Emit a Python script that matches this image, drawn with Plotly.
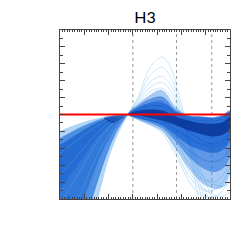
import plotly.graph_objects as go

# ---- data ----
title_text = "H3"
x_range = [0, 7]
y_range = [-1, 1]
ref_level = 0.0
vlines = [3.0, 4.8, 6.25]

# left-hand family (all meet at the pivot)
x_left = [0.0, 0.5, 1.0, 1.5, 2.0, 2.4, 2.8]
L1 = [-0.20, -0.14, -0.09, -0.05, -0.02, -0.006, 0]
L2 = [-0.28, -0.20, -0.13, -0.07, -0.03, -0.01, 0]
L3 = [-0.36, -0.27, -0.18, -0.10, -0.045, -0.015, 0]
L4 = [-0.46, -0.35, -0.24, -0.14, -0.06, -0.02, 0]
L5 = [-0.58, -0.45, -0.31, -0.18, -0.08, -0.025, 0]
L6 = [-0.72, -0.56, -0.39, -0.23, -0.10, -0.03, 0]
L7 = [-0.88, -0.69, -0.48, -0.28, -0.13, -0.04, 0]
L8 = [-1.05, -0.83, -0.58, -0.34, -0.16, -0.05, 0]
L9 = [-1.25, -0.99, -0.70, -0.42, -0.20, -0.07, 0]
L10 = [-1.45, -1.16, -0.83, -0.50, -0.24, -0.09, 0]
L11 = [-1.70, -1.36, -0.98, -0.60, -0.29, -0.11, 0]
L12 = [-1.95, -1.58, -1.15, -0.71, -0.35, -0.14, 0]
L13 = [-2.20, -1.80, -1.32, -0.84, -0.42, -0.17, 0]
S1 = [-2.40, -2.00, -1.55, -1.06, -0.52, -0.22, 0]
left_lines = [L1, L2, L4, L6, L8, L10, L12, S1]

x_core_left = [1.8, 2.2, 2.5, 2.8]
core_left_top = [-0.04, -0.015, -0.006, 0]
core_left_bot = [-0.04, -0.10, -0.05, 0]

# right-hand family
x_right = [2.8, 3.2, 3.7, 4.2, 4.8, 5.3, 5.8, 6.3, 6.7, 7.0]
outer_top = [0, 0.12, 0.23, 0.29, 0.08, -0.01, -0.02, -0.03, 0.0, 0.05]
outer_bot = [0, -0.065, -0.124, -0.20, -0.42, -0.64, -0.80, -0.88, -0.86, -0.70]
mid_top = [0, 0.10, 0.18, 0.21, 0.05, -0.015, -0.025, -0.035, -0.01, 0.04]
mid_bot = [0, -0.05, -0.10, -0.16, -0.33, -0.50, -0.62, -0.68, -0.64, -0.50]
dense_top = [0, 0.077, 0.136, 0.148, 0.03, -0.018, -0.03, -0.04, -0.018, 0.03]
dense_bot = [0, -0.04, -0.077, -0.124, -0.254, -0.36, -0.42, -0.455, -0.42, -0.30]
core_top = [0, 0.045, 0.06, 0.05, -0.03, -0.07, -0.10, -0.11, -0.09, -0.03]
core_bot = [0, -0.01, -0.04, -0.07, -0.13, -0.19, -0.23, -0.26, -0.24, -0.16]
R1 = [0, 0.10, 0.18, 0.20, 0.0, -0.05, -0.07, -0.08, -0.05, 0.02]
R2 = [0, 0.06, 0.10, 0.10, -0.03, -0.09, -0.13, -0.15, -0.12, -0.05]
R3 = [0, 0.03, 0.03, 0.0, -0.10, -0.17, -0.22, -0.25, -0.22, -0.12]
R4 = [0, 0.0, -0.03, -0.07, -0.18, -0.28, -0.35, -0.38, -0.34, -0.22]
R5 = [0, -0.03, -0.07, -0.12, -0.28, -0.42, -0.52, -0.56, -0.52, -0.40]
R6 = [0, 0.08, 0.14, 0.16, -0.05, -0.20, -0.30, -0.35, -0.30, -0.15]
right_lines = [R1, R2, R3, R4, R5, R6]
D1 = [0, -0.03, -0.08, -0.17, -0.45, -0.72, -0.88, -0.90, -0.80, -0.62]
D2 = [0, -0.05, -0.12, -0.22, -0.50, -0.78, -0.95, -0.98, -0.90, -0.75]
D3 = [0, 0.0, -0.03, -0.10, -0.33, -0.58, -0.75, -0.80, -0.72, -0.55]
D4 = [0, 0.02, 0.02, -0.05, -0.25, -0.50, -0.70, -0.82, -0.85, -0.80]
D5 = [0, -0.02, -0.06, -0.14, -0.40, -0.66, -0.85, -0.95, -0.97, -0.92]
dip_lines = [D1, D2, D3, D4, D5]

x_peak = [2.8, 3.2, 3.7, 4.2, 4.6, 4.8, 5.1, 5.5, 5.8, 6.2]
P1 = [0, 0.20, 0.55, 0.68, 0.53, 0.33, 0.00, -0.70, -1.10, -1.60]
P2 = [0, 0.18, 0.46, 0.56, 0.42, 0.25, -0.05, -0.60, -0.95, -1.40]
P3 = [0, 0.16, 0.38, 0.45, 0.33, 0.18, -0.08, -0.50, -0.85, -1.20]
P4 = [0, 0.14, 0.32, 0.38, 0.26, 0.13, -0.10, -0.45, -0.75, -1.05]
P5 = [0, 0.12, 0.27, 0.31, 0.20, 0.09, -0.12, -0.42, -0.66, -0.95]
peak_lines = [P1, P2, P3, P4, P5]

# ---- figure ----
fig = go.Figure()


def band(xs, top, bot, color):
    fig.add_trace(go.Scatter(
        x=list(xs) + list(xs)[::-1], y=list(top) + list(bot)[::-1],
        fill="toself", fillcolor=color, mode="lines", line=dict(width=0),
        line_shape="spline", hoverinfo="skip", showlegend=False))


def curves(xs, family, color, width=0.8):
    for ys in family:
        fig.add_trace(go.Scatter(x=xs, y=ys, mode="lines", line_shape="spline",
                                 line=dict(color=color, width=width),
                                 hoverinfo="skip", showlegend=False))


# faint outliers first so the dense bands sit over them
curves(x_peak, peak_lines, "rgba(150,205,245,0.6)")
curves(x_right, dip_lines, "rgba(130,195,245,0.6)")

# left fan, layered
band(x_left, L1, S1, "rgba(100,170,240,0.5)")
band(x_left, L2, L13, "rgba(10,95,210,0.6)")
band(x_left, L3, L11, "rgba(0,80,200,0.35)")
band(x_left, L3, L7, "rgba(0,70,190,0.25)")
band(x_core_left, core_left_top, core_left_bot, "rgba(0,40,140,0.55)")

# right family, layered
band(x_right, outer_top, outer_bot, "rgba(60,140,232,0.45)")
band(x_right, mid_top, mid_bot, "rgba(20,100,215,0.5)")
band(x_right, dense_top, dense_bot, "rgba(0,80,200,0.55)")
band(x_right, core_top, core_bot, "rgba(0,35,130,0.65)")

curves(x_left, left_lines, "rgba(120,190,245,0.35)")
curves(x_right, right_lines, "rgba(0,60,180,0.3)")

fig.add_trace(go.Scatter(x=x_range, y=[ref_level, ref_level], mode="lines",
                         line=dict(color="#ff0000", width=2),
                         hoverinfo="skip", showlegend=False))

for v in vlines:
    fig.add_shape(type="line", xref="x", yref="y", x0=v, x1=v,
                  y0=y_range[0], y1=y_range[1], layer="below",
                  line=dict(color="#9a9a9a", width=1, dash="dot"))

axis_common = dict(showgrid=False, zeroline=False, showline=True,
                   linecolor="#444444", linewidth=1, mirror="allticks",
                   ticks="inside", tickcolor="#444444", ticklen=5,
                   showticklabels=False)
fig.update_xaxes(range=x_range, tick0=0, dtick=1,
                 minor=dict(ticks="inside", ticklen=2, dtick=0.1,
                            tickcolor="#444444", showgrid=False),
                 **axis_common)
fig.update_yaxes(range=y_range, tick0=-1, dtick=0.2,
                 minor=dict(ticks="inside", ticklen=3, dtick=0.1,
                            tickcolor="#444444", showgrid=False),
                 **axis_common)

fig.update_layout(
    width=242, height=242,
    margin=dict(l=60, r=12, t=30, b=43),
    paper_bgcolor="white", plot_bgcolor="white",
    title=dict(text=title_text, x=0.5, xref="paper", xanchor="center",
               y=1 - 17 / 242, yref="container", yanchor="middle",
               font=dict(family="Lato", size=16, color="#000000")),
    showlegend=False,
)

fig.write_html("out.html", config={"displayModeBar": False},
               post_script="document.body.style.margin='0';"
                           "document.body.style.overflow='hidden';")
